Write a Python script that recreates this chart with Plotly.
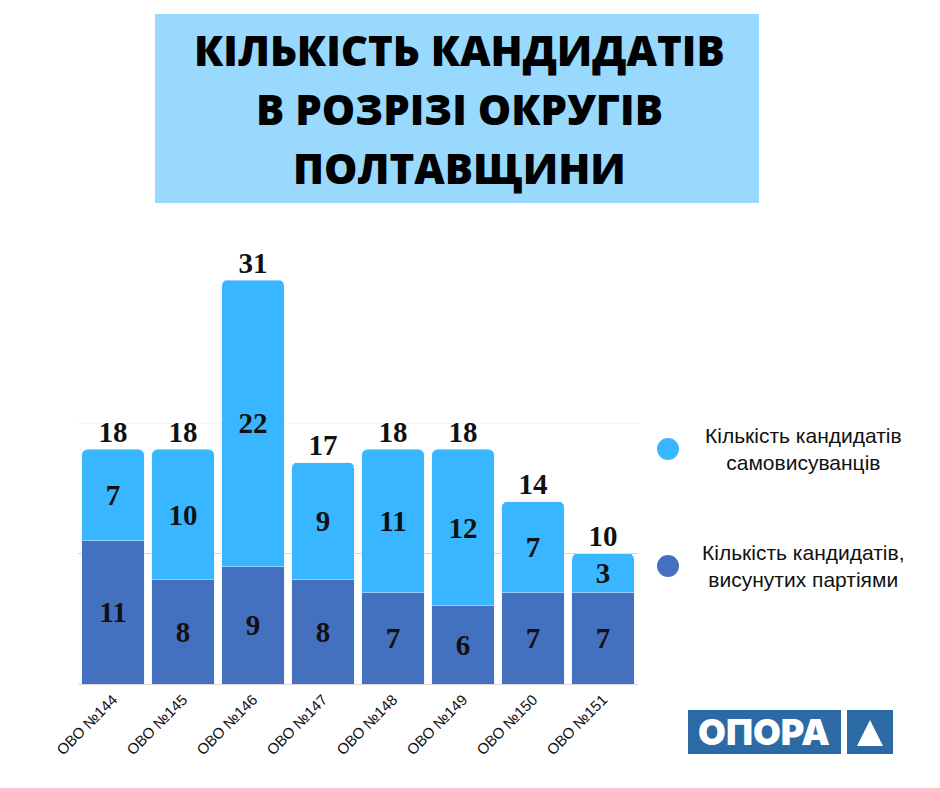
import plotly.graph_objects as go

districts = ["ОВО №144", "ОВО №145", "ОВО №146", "ОВО №147",
             "ОВО №148", "ОВО №149", "ОВО №150", "ОВО №151"]
by_party = [11, 8, 9, 8, 7, 6, 7, 7]
self_nominated = [7, 10, 22, 9, 11, 12, 7, 3]
totals = [p + s for p, s in zip(by_party, self_nominated)]

title_lines = ["КІЛЬКІСТЬ КАНДИДАТІВ", "В РОЗРІЗІ ОКРУГІВ", "ПОЛТАВЩИНИ"]
legend_names = ["Кількість кандидатів<br>самовисуванців",
                "Кількість кандидатів,<br>висунутих партіями"]

LIGHT = "#38b6ff"
DARK = "#4470c0"
NUM_FONT = dict(family="Liberation Serif", size=29, color="#111111", weight="bold")

# page has an 8px body margin, so the figure is a bit smaller than the window
W, H = 924, 772


def px(x):
    # screen x -> paper fraction
    return (x - 8) / W


def py(y):
    return 1 - (y - 8) / H


fig = go.Figure()
fig.add_trace(go.Bar(x=districts, y=by_party, marker_color=DARK,
                     text=by_party, textposition="inside",
                     insidetextanchor="middle", textfont=NUM_FONT,
                     name="партії"))
fig.add_trace(go.Bar(x=districts, y=self_nominated, marker_color=LIGHT,
                     text=self_nominated, textposition="inside",
                     insidetextanchor="middle", textfont=NUM_FONT,
                     name="самовисуванці"))
# totals above the bars
fig.add_trace(go.Scatter(x=districts, y=totals, mode="text",
                         text=[str(t) for t in totals],
                         textposition="top center", textfont=NUM_FONT,
                         showlegend=False, cliponaxis=False))

fig.update_layout(
    width=W, height=H,
    margin=dict(l=0, r=0, t=0, b=0, autoexpand=False),
    paper_bgcolor="white", plot_bgcolor="white",
    barmode="stack", bargap=0.114, barcornerradius=5,
    showlegend=False,
    xaxis=dict(domain=[px(78), px(638)], showgrid=False,
               showline=True, linecolor="#dddddd", linewidth=1,
               tickangle=-45, ticks="",
               tickfont=dict(family="Liberation Sans", size=15, color="#111111")),
    yaxis=dict(domain=[py(684), py(241)], range=[0, 34],
               showticklabels=False, tickvals=[10],
               showgrid=True, gridcolor="#d4d4d4", gridwidth=1,
               minor=dict(tickvals=[20], showgrid=True, gridcolor="#f5f5f5"),
               zeroline=False),
)

# title box
fig.add_shape(type="rect", xref="paper", yref="paper",
              x0=px(155), x1=px(759), y0=py(203), y1=py(14),
              fillcolor="#99d9fd", line_width=0, layer="below")
for i, line in enumerate(title_lines):
    fig.add_annotation(text=line, xref="paper", yref="paper",
                       x=px(459), y=py(50 + i * 58.5), showarrow=False,
                       xanchor="center", yanchor="middle",
                       font=dict(family="Open Sans", size=42, color="black",
                                 weight=800))

# legend
for i, (name, col) in enumerate(zip(legend_names, [LIGHT, DARK])):
    cy = 449 + i * 117
    fig.add_shape(type="circle", xref="paper", yref="paper",
                  x0=px(657), x1=px(679), y0=py(cy + 11), y1=py(cy - 11),
                  fillcolor=col, line_width=0)
    fig.add_annotation(text=name, xref="paper", yref="paper",
                       x=px(803), y=py(cy), showarrow=False, align="center",
                       xanchor="center", yanchor="middle",
                       font=dict(family="Liberation Sans", size=21, color="#111111"))

# logo
LOGO = "#2b6aa5"
fig.add_shape(type="rect", xref="paper", yref="paper",
              x0=px(688), x1=px(841), y0=py(754), y1=py(710),
              fillcolor=LOGO, line_width=0)
fig.add_shape(type="rect", xref="paper", yref="paper",
              x0=px(847), x1=px(893), y0=py(754), y1=py(710),
              fillcolor=LOGO, line_width=0)
fig.add_shape(type="path", xref="paper", yref="paper",
              path=f"M {px(857)} {py(746)} L {px(883)} {py(746)} L {px(870)} {py(720)} Z",
              fillcolor="white", line_width=0)
fig.add_annotation(text="ОПОРА", xref="paper", yref="paper",
                   x=px(764), y=py(732), showarrow=False,
                   xanchor="center", yanchor="middle",
                   font=dict(family="Inter", size=36, color="white", weight=900))

fig.write_html("out.html")
